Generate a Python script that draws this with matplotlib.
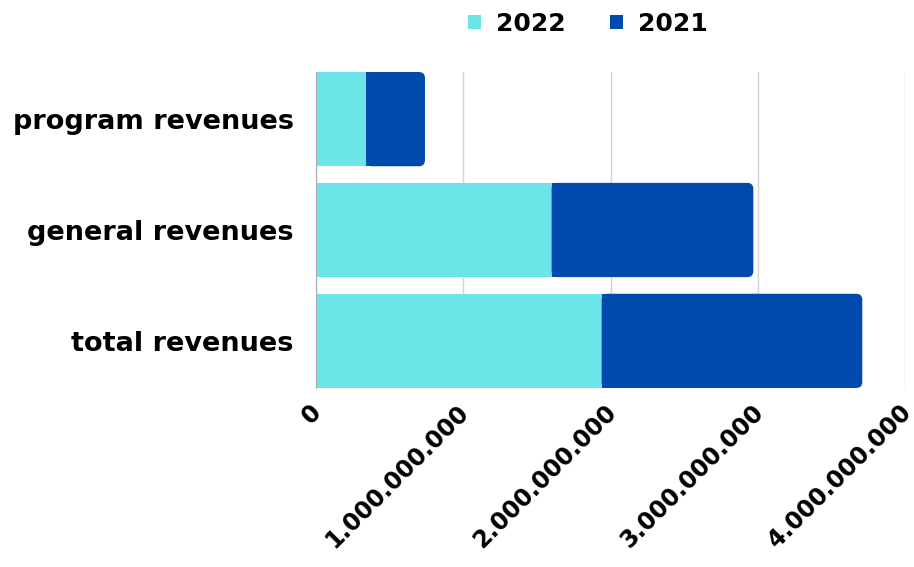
import matplotlib.pyplot as plt
from matplotlib.patches import FancyBboxPatch, Rectangle
from matplotlib.ticker import FuncFormatter
from matplotlib.transforms import ScaledTranslation

categories = ['program revenues', 'general revenues', 'total revenues']
rev_2022 = [340_000_000, 1_600_000_000, 1_940_000_000]
rev_2021 = [400_000_000, 1_370_000_000, 1_770_000_000]
xticks = [0, 1_000_000_000, 2_000_000_000, 3_000_000_000, 4_000_000_000]

c22 = '#6CE5E8'
c21 = '#004AAD'
font = 'DejaVu Sans'

fig = plt.figure(figsize=(9.14, 5.67), dpi=100)
ax = fig.add_axes([316 / 914, 1 - 388 / 567, 589 / 914, 316 / 567])

h = 0.85
b1 = ax.barh(categories, rev_2022, height=h, color=c22, label='2022')
b2 = ax.barh(categories, rev_2021, left=rev_2022, height=h, color=c21, label='2021')

# rounded right ends on the outer segment
r = 4.2e7
asp = (6 / 111) / r
for p in b2.patches:
    x0, y0, w, hh = p.get_x(), p.get_y(), p.get_width(), p.get_height()
    p.set_visible(False)
    ax.add_patch(FancyBboxPatch((x0, y0), w, hh,
                                boxstyle=f'round,pad=0,rounding_size={r}',
                                mutation_aspect=asp, fc=c21, ec='none', zorder=2))
    ax.add_patch(Rectangle((x0, y0), w / 2, hh, fc=c21, ec='none', zorder=2))

ax.set_xlim(0, 4_000_000_000)
ax.set_ylim(2.425, -0.425)
ax.set_xticks(xticks)
ax.xaxis.set_major_formatter(FuncFormatter(lambda v, _: f'{int(v):,}'.replace(',', '.')))
ax.grid(axis='x', color='#d4d4d4', linewidth=1)
ax.set_axisbelow(True)
for s in ['top', 'right', 'bottom']:
    ax.spines[s].set_visible(False)
ax.spines['left'].set_color('#aaaaaa')
ax.tick_params(axis='both', length=0)
ax.tick_params(axis='y', pad=16)
ax.tick_params(axis='x', pad=15)
for t in ax.get_yticklabels():
    t.set_fontsize(19.5)
    t.set_fontweight('bold')
    t.set_family(font)
shift = ScaledTranslation(2 / 100, 0, fig.dpi_scale_trans)
for t in ax.get_xticklabels():
    t.set_fontsize(17)
    t.set_fontweight('bold')
    t.set_family(font)
    t.set_rotation(45)
    t.set_ha('right')
    t.set_va('center')
    t.set_rotation_mode('anchor')
    t.set_transform(t.get_transform() + shift)

handles = [Rectangle((0, 0), 1, 1, fc=c22), Rectangle((0, 0), 1, 1, fc=c21)]
fig.legend(handles=handles, labels=['2022', '2021'], loc='center',
           bbox_to_anchor=(588 / 914, 1 - 24 / 567), ncol=2, frameon=False,
           handlelength=0.52, handleheight=0.52, handletextpad=0.6, columnspacing=1.8,
           prop={'family': font, 'weight': 'bold', 'size': 18})

fig.savefig('out.png', dpi=100)
